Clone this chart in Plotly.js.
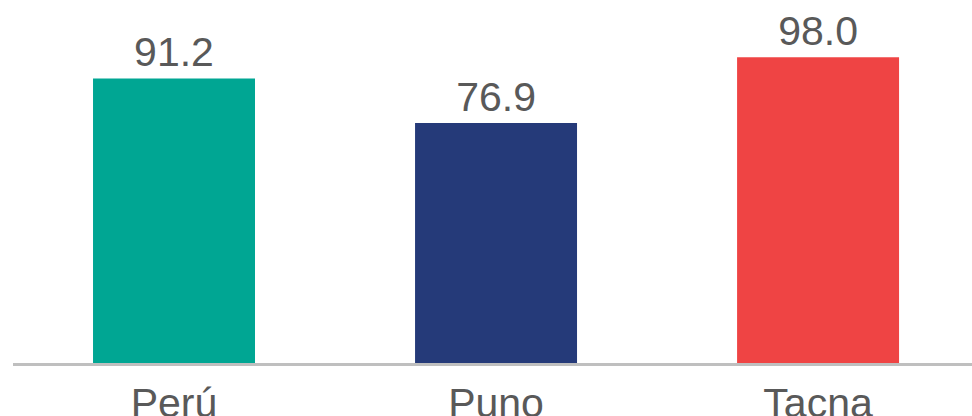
<!DOCTYPE html>
<html><head><meta charset="utf-8">
<script src="https://cdn.plot.ly/plotly-3.0.1.min.js"></script>
<style>html,body{margin:0;padding:0;background:#fff;}#chart{width:972px;height:416px;}</style>
</head><body><div id="chart"></div>
<script>
const categories = ["Perú", "Puno", "Tacna"];
const values = [91.2, 76.9, 98.0];
const labels = ["91.2", "76.9", "98.0"];
const colors = ["#00A693", "#253A79", "#EF4444"];

const trace = {
  type: "bar",
  x: categories,
  y: values,
  text: labels,
  textposition: "outside",
  texttemplate: "%{text}",
  cliponaxis: false,
  textfont: {family: "Liberation Sans, Arial, sans-serif", size: 41, color: "#595959"},
  marker: {color: colors, line: {width: 0}},
  width: 0.503,
  hoverinfo: "none"
};

const layout = {
  width: 972, height: 416,
  margin: {l: 13, r: 0, t: 0, b: 53},
  paper_bgcolor: "#ffffff", plot_bgcolor: "#ffffff",
  showlegend: false,
  xaxis: {
    type: "category",
    range: [-0.5, 2.478],
    showline: true, linecolor: "#BFBFBF", linewidth: 3,
    showgrid: false, zeroline: false, ticks: "",
    tickfont: {family: "Liberation Sans, Arial, sans-serif", size: 41, color: "#595959"},
    ticklabelstandoff: 2
  },
  yaxis: {
    range: [0, 116.35],
    visible: false, showgrid: false, zeroline: false
  }
};

Plotly.newPlot("chart", [trace], layout, {staticPlot: true, displayModeBar: false});
</script>
</body></html>
